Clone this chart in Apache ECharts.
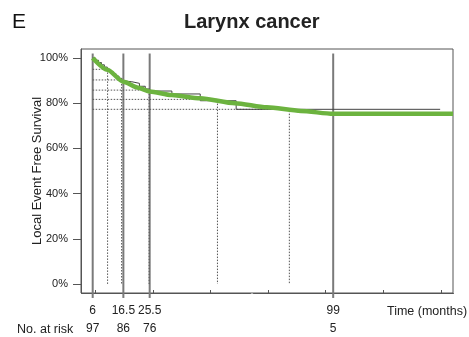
<!DOCTYPE html>
<html>
<head>
<meta charset="utf-8">
<script src="https://cdn.jsdelivr.net/npm/echarts@6/dist/echarts.min.js"></script>
<style>
  html, body { margin: 0; padding: 0; background: #fff; }
  #box { width: 469px; height: 337px; }
</style>
</head>
<body>
<div id="box"></div>
<script>
// Kaplan-Meier steps (months, % surviving)
var kmMonths = [6, 7, 8, 9, 10, 11, 12, 13, 14, 15, 16, 16.5, 19.4, 22, 24, 25.5, 33.1, 42.8, 55.1, 135.6];
var kmSurv = [100, 99, 98, 97, 96, 95, 94, 93, 92, 91, 90, 89.5, 88.8, 87.5, 86.3, 85.4, 84.1, 81.1, 77.3, 77.3];

// fitted (green) curve
var fitMonths = [6, 11, 16.5, 21.6, 25.5, 33, 42.8, 54.7, 76.3, 87.9, 99, 140];
var fitSurv = [100, 94.8, 89.5, 86.8, 85.2, 83.6, 82.2, 80.0, 78.2, 76.6, 75.3, 75.3];

// dotted reference lines
var refMonths = [11.1, 15.9, 25.3, 48.7, 84];
var refSurv = [95, 90.3, 85.8, 81.7, 77.3];

// labelled time points and number at risk
var timeLabels = [6, 16.5, 25.5, 99];
var riskCounts = [97, 86, 76, 5];
var tickMonths = [6.8, 26.6, 46.3, 76.7, 96.4, 116.2, 135.9];
var yTicks = [0, 20, 40, 60, 80, 100];

var FONT = '"Liberation Sans", Arial, sans-serif';

// the original time axis is compressed between ~60 and ~72 months
var timeBreaks = [{ start: 60, end: 71.7, gap: 1 }];

function initChart() {
    var dom = document.getElementById('box');
    var myChart = echarts.init(dom, null, { renderer: 'canvas' });

    var series = [];

    // gray vertical lines at labelled times
    timeLabels.forEach(function (t) {
        series.push({
            type: 'line',
            xAxisIndex: 0,
            data: [[t, 102], [t, -6.2]],
            symbol: 'none',
            clip: false,
            silent: true,
            lineStyle: { color: '#7a7a7a', width: 2 },
            z: 2
        });
    });

    // dotted L lines
    for (var i = 0; i < refMonths.length; i++) {
        series.push({
            type: 'line',
            xAxisIndex: 0,
            data: [[6, refSurv[i]], [refMonths[i], refSurv[i]], [refMonths[i], 0]],
            symbol: 'none',
            silent: true,
            lineStyle: { color: '#555', width: 1, type: [1.5, 1.5] },
            z: 3
        });
    }

    var kmData = kmMonths.map(function (t, k) { return [t, kmSurv[k]]; });
    series.push({
        type: 'line',
        xAxisIndex: 0,
        step: 'end',
        data: kmData,
        symbol: 'none',
        lineStyle: { color: '#444', width: 1 },
        z: 4
    });

    var fitData = fitMonths.map(function (t, k) { return [t, fitSurv[k]]; });
    series.push({
        type: 'line',
        xAxisIndex: 0,
        data: fitData,
        smooth: 0.25,
        smoothMonotone: 'x',
        symbol: 'none',
        lineStyle: { color: '#6cb33f', width: 4.5 },
        z: 5
    });

    var breakStyle = { show: false };

    var option = {
        animation: false,
        backgroundColor: '#fff',
        title: {
            text: 'Larynx cancer',
            left: 184,
            top: 12,
            padding: 0,
            textStyle: { fontFamily: FONT, fontSize: 20, fontWeight: 'bold', color: '#222' }
        },
        graphic: [
            { type: 'text', left: 12, top: 12, style: { text: 'E', fontFamily: FONT, fontSize: 21, fill: '#111' } },
            { type: 'text', left: 387, top: 305, style: { text: 'Time (months)', fontFamily: FONT, fontSize: 12.5, fill: '#222' } },
            { type: 'text', left: 17, top: 323, style: { text: 'No. at risk', fontFamily: FONT, fontSize: 12.5, fill: '#222' } }
        ],
        grid: {
            left: 81,
            right: 16,
            top: 49,
            bottom: 44,
            show: true,
            borderColor: '#555',
            borderWidth: 1
        },
        xAxis: [
            {
                type: 'value',
                min: 2,
                max: 140,
                position: 'bottom',
                breaks: timeBreaks,
                breakArea: breakStyle,
                splitLine: { show: false },
                axisLine: { show: true, onZero: false, lineStyle: { color: '#555', width: 1 } },
                axisTick: { show: true, inside: true, length: 3, customValues: tickMonths, lineStyle: { color: '#555' } },
                axisLabel: {
                    customValues: timeLabels,
                    margin: 12,
                    fontFamily: FONT,
                    fontSize: 12,
                    color: '#222'
                }
            },
            {
                type: 'value',
                min: 2,
                max: 140,
                position: 'bottom',
                offset: 18,
                breaks: timeBreaks,
                breakArea: breakStyle,
                splitLine: { show: false },
                axisLine: { show: false, onZero: false },
                axisTick: { show: false },
                axisLabel: {
                    customValues: timeLabels,
                    margin: 12,
                    fontFamily: FONT,
                    fontSize: 12,
                    color: '#222',
                    formatter: function (v) {
                        var idx = timeLabels.indexOf(v);
                        return idx >= 0 ? String(riskCounts[idx]) : '';
                    }
                }
            }
        ],
        yAxis: {
            type: 'value',
            min: -4,
            max: 104,
            name: 'Local Event Free Survival',
            nameLocation: 'middle',
            nameGap: 37,
            nameMoveOverlap: false,
            nameTextStyle: { fontFamily: FONT, fontSize: 13, color: '#222' },
            splitLine: { show: false },
            axisLine: { show: true, onZero: false, lineStyle: { color: '#555', width: 1 } },
            axisTick: { show: true, length: 8, customValues: yTicks, lineStyle: { color: '#555' } },
            axisLabel: {
                customValues: yTicks,
                margin: 13,
                fontFamily: FONT,
                fontSize: 11,
                color: '#222',
                formatter: '{value}%'
            }
        },
        series: series
    };

    if (option && typeof option === 'object') {
        myChart.setOption(option, true);
    }
}

initChart();
</script>
</body>
</html>
